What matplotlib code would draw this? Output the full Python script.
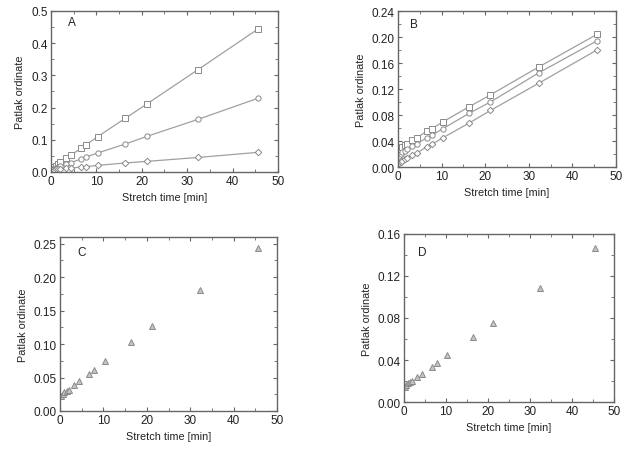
import matplotlib
matplotlib.use("Agg")
import matplotlib.pyplot as plt
from matplotlib.ticker import MultipleLocator, FormatStrFormatter

plt.rcParams['font.family'] = ['Liberation Sans', 'DejaVu Sans']

time_min = [0.3, 0.6, 1.0, 1.5, 2.0, 3.2, 4.3, 6.6, 7.8, 10.3, 16.4, 21.2, 32.3, 45.6]

a_square = [0.012, 0.015, 0.018, 0.024, 0.030, 0.042, 0.052, 0.073, 0.085, 0.110, 0.167, 0.212, 0.317, 0.444]
a_circle = [0.008, 0.010, 0.012, 0.015, 0.018, 0.024, 0.029, 0.040, 0.047, 0.059, 0.087, 0.111, 0.163, 0.229]
a_diamond = [0.006, 0.007, 0.008, 0.009, 0.010, 0.011, 0.012, 0.0155, 0.0165, 0.0206, 0.028, 0.033, 0.045, 0.061]

b_square = [0.024, 0.028, 0.031, 0.034, 0.036, 0.041, 0.045, 0.055, 0.059, 0.0695, 0.093, 0.111, 0.154, 0.204]
b_circle = [0.017, 0.020, 0.023, 0.025, 0.028, 0.032, 0.0355, 0.045, 0.049, 0.059, 0.083, 0.100, 0.145, 0.194]
b_diamond = [0.006, 0.008, 0.010, 0.012, 0.014, 0.018, 0.0216, 0.031, 0.035, 0.045, 0.068, 0.087, 0.129, 0.180]

c_tri = [0.022, 0.025, 0.028, 0.030, 0.032, 0.0395, 0.0445, 0.056, 0.062, 0.074, 0.1035, 0.1265, 0.1805, 0.2435]
d_tri = [0.014, 0.016, 0.018, 0.019, 0.020, 0.0238, 0.0266, 0.0333, 0.037, 0.0444, 0.0621, 0.0757, 0.1084, 0.1467]

line_c = '#a0a0a0'
spine_c = '#666666'
text_c = '#222222'

fig = plt.figure(figsize=(6.24, 4.52), dpi=100)

def style(ax, ymax, ymaj, ymin, fmt, label, lpos):
    ax.set_xlim(0, 50)
    ax.set_ylim(0, ymax)
    ax.xaxis.set_major_locator(MultipleLocator(10))
    ax.xaxis.set_minor_locator(MultipleLocator(5))
    ax.yaxis.set_major_locator(MultipleLocator(ymaj))
    ax.yaxis.set_minor_locator(MultipleLocator(ymin))
    ax.yaxis.set_major_formatter(FormatStrFormatter(fmt))
    ax.tick_params(which='both', direction='in', top=True, right=True,
                   labelsize=8.5, colors=spine_c, labelcolor=text_c, pad=2.5)
    ax.tick_params(which='major', length=3, width=0.8)
    ax.tick_params(which='minor', length=2, width=0.6)
    for s in ax.spines.values():
        s.set_color(spine_c)
        s.set_linewidth(1.0)
    ax.set_xlabel('Stretch time [min]', fontsize=7.8, color=text_c, labelpad=3)
    ax.set_ylabel('Patlak ordinate', fontsize=7.8, color=text_c, labelpad=4)
    ax.text(lpos[0], lpos[1], label, transform=ax.transAxes, fontsize=8.5,
            color=text_c, ha='left', va='center')

axA = fig.add_axes([0.0817, 0.6173, 0.3638, 0.3562])
for ys, m in [(a_square, 's'), (a_circle, 'o'), (a_diamond, 'D')]:
    axA.plot(time_min, ys, color=line_c, lw=0.9, marker=m, markersize=3.8 if m != 'D' else 3.3,
             markerfacecolor='white', markeredgecolor='#8a8a8a', markeredgewidth=0.7)
style(axA, 0.5, 0.1, 0.05, '%.1f', 'A', (0.075, 0.93))

axB = fig.add_axes([0.6378, 0.6283, 0.3494, 0.3451])
for ys, m in [(b_square, 's'), (b_circle, 'o'), (b_diamond, 'D')]:
    axB.plot(time_min, ys, color=line_c, lw=0.9, marker=m, markersize=3.8 if m != 'D' else 3.3,
             markerfacecolor='white', markeredgecolor='#8a8a8a', markeredgewidth=0.7)
style(axB, 0.24, 0.04, 0.02, '%.2f', 'B', (0.055, 0.917))

axC = fig.add_axes([0.0962, 0.0885, 0.3478, 0.385])
axC.plot(time_min, c_tri, linestyle='none', marker='^', markersize=4.2,
         markerfacecolor='#c4c4c4', markeredgecolor='#8a8a8a', markeredgewidth=0.7)
style(axC, 0.26, 0.05, 0.025, '%.2f', 'C', (0.078, 0.914))

axD = fig.add_axes([0.6474, 0.1084, 0.3365, 0.3717])
axD.plot(time_min, d_tri, linestyle='none', marker='^', markersize=4.2,
         markerfacecolor='#c4c4c4', markeredgecolor='#8a8a8a', markeredgewidth=0.7)
style(axD, 0.16, 0.04, 0.02, '%.2f', 'D', (0.067, 0.893))

fig.savefig('out.png', dpi=100)
